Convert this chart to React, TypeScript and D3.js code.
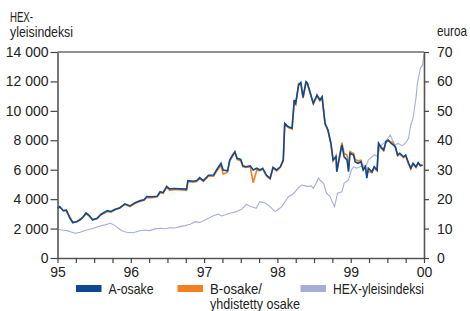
import React, { useEffect, useRef } from "react";
import * as d3 from "d3";

// HEX general index (left axis), decimal years
const hexDates = [
  1995.0, 1995.06, 1995.13, 1995.24, 1995.31, 1995.4, 1995.48, 1995.58, 1995.65, 1995.72,
  1995.77, 1995.83, 1995.88, 1995.94, 1996.03, 1996.13, 1996.19, 1996.26, 1996.33, 1996.4,
  1996.47, 1996.53, 1996.6, 1996.67, 1996.74, 1996.81, 1996.88, 1996.94, 1997.0, 1997.06,
  1997.12, 1997.19, 1997.24, 1997.3, 1997.35, 1997.44, 1997.51, 1997.58, 1997.63, 1997.67,
  1997.71, 1997.76, 1997.83, 1997.9, 1997.97, 1998.01, 1998.06, 1998.1, 1998.15, 1998.2,
  1998.24, 1998.28, 1998.33, 1998.38, 1998.42, 1998.46, 1998.49, 1998.53, 1998.56, 1998.58,
  1998.63, 1998.67, 1998.72, 1998.74, 1998.78, 1998.82, 1998.88, 1998.91, 1998.97, 1999.01,
  1999.04, 1999.08, 1999.13, 1999.17, 1999.21, 1999.24, 1999.29, 1999.33, 1999.37, 1999.4,
  1999.47, 1999.54, 1999.57, 1999.6, 1999.65, 1999.69, 1999.72, 1999.76, 1999.79, 1999.82,
  1999.85, 1999.89, 1999.91, 1999.95, 1999.98, 2000.0,
];
const hexValues = [
  1950, 1900, 1860, 1680, 1750, 1900, 2000, 2170, 2250, 2360,
  2250, 2020, 1850, 1750, 1720, 1850, 1900, 1860, 1980, 2020,
  1990, 2060, 2040, 2130, 2200, 2290, 2470, 2420, 2550, 2700,
  2850, 2990, 2860, 2950, 3040, 3150, 3310, 3650, 3500, 3450,
  3380, 3830, 3750, 3490, 3150, 3300, 3490, 3800, 4170, 4300,
  4500, 4750, 4960, 4900, 4850, 4900, 4740, 5100, 5450, 5300,
  5080, 4400, 4170, 3900, 3490, 4400, 4500, 5080, 5300, 5980,
  6200, 6100, 6200, 6320, 6250, 6660, 6880, 7000, 6880, 7560,
  7900, 8360, 8020, 7680, 7790, 7650, 7680, 7900, 8130, 9040,
  9490, 10850, 11870, 12890, 13120, 13900,
];

// A and B shares (right axis, euros)
const shareDates = [
  1995.0, 1995.03, 1995.08, 1995.12, 1995.17, 1995.21, 1995.27, 1995.31, 1995.35, 1995.39,
  1995.43, 1995.48, 1995.54, 1995.59, 1995.68, 1995.73, 1995.78, 1995.85, 1995.92, 1995.99,
  1996.06, 1996.13, 1996.18, 1996.22, 1996.29, 1996.36, 1996.4, 1996.44, 1996.49, 1996.53,
  1996.6, 1996.67, 1996.76, 1996.78, 1996.85, 1996.9, 1996.94, 1996.99, 1997.06, 1997.13,
  1997.17, 1997.23, 1997.26, 1997.32, 1997.35, 1997.39, 1997.42, 1997.45, 1997.5, 1997.53,
  1997.57, 1997.63, 1997.67, 1997.72, 1997.76, 1997.8, 1997.85, 1997.9, 1997.94, 1997.99,
  1998.04, 1998.08, 1998.1, 1998.15, 1998.2, 1998.23, 1998.25, 1998.29, 1998.32, 1998.35,
  1998.39, 1998.41, 1998.45, 1998.49, 1998.54, 1998.58, 1998.61, 1998.65, 1998.69, 1998.73,
  1998.76, 1998.8, 1998.81, 1998.84, 1998.88, 1998.91, 1998.95, 1998.97, 1998.99, 1999.04,
  1999.06, 1999.1, 1999.14, 1999.17, 1999.2, 1999.22, 1999.24, 1999.29, 1999.32, 1999.36,
  1999.38, 1999.41, 1999.45, 1999.48, 1999.51, 1999.55, 1999.58, 1999.61, 1999.64, 1999.67,
  1999.72, 1999.75, 1999.79, 1999.82, 1999.85, 1999.89, 1999.92, 1999.95, 1999.98,
];
const aValues = [
  17.0, 17.5, 16.0, 16.3, 13.5, 12.0, 12.5, 13.0, 14.0, 15.3,
  14.5, 12.9, 13.5, 14.8, 16.1, 15.8, 16.5, 17.0, 18.4, 17.7,
  18.8, 19.5, 19.8, 20.9, 20.8, 21.0, 22.5, 22.2, 24.3, 23.5,
  23.6, 23.5, 23.4, 26.3, 26.1, 26.3, 27.3, 26.3, 28.1, 28.2,
  29.9, 32.2, 29.9, 29.6, 33.3, 35.0, 36.1, 33.9, 33.5, 31.3,
  31.0, 31.3, 29.9, 30.5, 29.9, 30.5, 28.2, 27.1, 30.8, 29.9,
  31.0, 33.3, 45.8, 44.6, 44.1, 53.7, 52.6, 58.8, 59.6, 54.6,
  59.9, 59.4, 56.0, 52.6, 55.4, 53.7, 54.8, 45.8, 43.5, 39.0,
  33.3, 34.4, 29.3, 33.3, 38.4, 34.4, 33.3, 29.3, 35.6, 35.0,
  32.7, 32.2, 32.7, 29.9, 31.0, 27.1, 30.5, 29.3, 31.0, 29.9,
  39.0, 37.8, 36.7, 39.5, 40.1, 39.0, 38.4, 37.8, 35.0, 35.6,
  34.4, 35.0, 32.2, 30.5, 32.2, 31.0, 32.4, 31.3, 31.6,
];
const bValues = [
  17.0, 17.2, 16.2, 16.0, 13.8, 12.2, 12.3, 13.2, 13.8, 15.0,
  14.3, 13.1, 13.3, 14.6, 15.8, 15.6, 16.3, 17.2, 18.2, 17.5,
  18.6, 19.3, 19.6, 20.6, 20.5, 20.8, 22.2, 22.0, 24.0, 23.0,
  23.3, 23.2, 23.0, 26.0, 25.8, 26.0, 27.0, 26.0, 27.8, 27.8,
  29.5, 31.5, 28.5, 29.2, 33.0, 34.6, 36.0, 33.5, 33.0, 31.0,
  30.8, 31.0, 25.6, 30.0, 29.6, 30.2, 27.9, 26.8, 30.5, 29.6,
  30.8, 33.0, 45.3, 44.3, 43.8, 53.2, 52.3, 59.3, 59.2, 54.3,
  59.5, 59.0, 55.6, 52.3, 55.0, 53.4, 54.5, 45.5, 43.2, 38.7,
  33.0, 34.8, 29.6, 33.6, 39.2, 35.5, 35.0, 30.0, 36.2, 35.5,
  33.6, 33.0, 33.2, 30.4, 31.2, 28.5, 29.5, 29.0, 30.6, 29.6,
  38.6, 37.5, 36.4, 39.2, 39.8, 39.5, 39.2, 37.5, 34.7, 35.3,
  34.1, 34.7, 31.9, 30.2, 31.9, 30.7, 32.1, 31.8, 31.3,
];

const leftTicks = [0, 2000, 4000, 6000, 8000, 10000, 12000, 14000];
const rightTicks = [0, 10, 20, 30, 40, 50, 60, 70];
const yearLabels = ["95", "96", "97", "98", "99", "00"];

const legendItems = [
  { label: ["A-osake"], widths: [45], color: "#0b4a90" },
  { label: ["B-osake/", "yhdistetty osake"], widths: [52, 90], color: "#f47f20" },
  { label: ["HEX-yleisindeksi"], widths: [91], color: "#a6aed8" },
];

const numFont = "'Liberation Sans', Arial, sans-serif";
const textFont = "'Liberation Sans', Arial, sans-serif";
const ink = "#222";

export default function App() {
  const ref = useRef<SVGSVGElement>(null);

  useEffect(() => {
    const W = 470, H = 311;
    const margin = { top: 52, right: 46, bottom: 53, left: 57.5 };
    const svg = d3.select(ref.current);
    svg.selectAll("*").remove();

    const x = d3.scaleLinear().domain([1995, 2000]).range([margin.left, W - margin.right]);
    const yL = d3.scaleLinear().domain([0, 14000]).range([H - margin.bottom, margin.top]);
    const yR = d3.scaleLinear().domain([0, 70]).range([H - margin.bottom, margin.top]);

    const fmt = d3.formatLocale({ decimal: ",", thousands: "\u00a0", grouping: [3], currency: ["", "€"] }).format(",");

    // narrow text: squeeze to the measured width
    const word = (g: any, s: string, tx: number, ty: number, w: number) =>
      g.append("text").attr("x", tx).attr("y", ty)
        .attr("font-family", textFont).attr("font-size", 14.5).attr("fill", ink)
        .attr("textLength", w).attr("lengthAdjust", "spacingAndGlyphs").text(s);

    // top border
    svg.append("line")
      .attr("x1", x(1995)).attr("x2", x(2000))
      .attr("y1", yL(14000)).attr("y2", yL(14000))
      .attr("stroke", ink).attr("stroke-width", 1.2);

    // lines
    const hexLine = d3.line<number>().x((d, i) => x(hexDates[i])).y(d => yL(d));
    const shareLine = d3.line<number>().x((d, i) => x(shareDates[i])).y(d => yR(d));

    svg.append("path").datum(hexValues).attr("d", hexLine)
      .attr("fill", "none").attr("stroke", "#a6aed8").attr("stroke-width", 1.1);
    svg.append("path").datum(bValues).attr("d", shareLine)
      .attr("fill", "none").attr("stroke", "#f47f20").attr("stroke-width", 1.6);
    svg.append("path").datum(aValues).attr("d", shareLine)
      .attr("fill", "none").attr("stroke", "#0b4a90").attr("stroke-width", 1.6);

    // axes
    const styleAxis = (g: any) => {
      g.select(".domain").attr("stroke", "#555").attr("stroke-width", 1.6);
      g.selectAll(".tick line").attr("stroke", "#444").attr("stroke-width", 1.2);
      g.selectAll("text").attr("font-family", numFont).attr("font-size", 14).attr("fill", ink);
    };

    svg.append("g")
      .attr("transform", `translate(${x(1995)},0)`)
      .call(d3.axisLeft(yL).tickValues(leftTicks).tickSize(7).tickSizeOuter(0).tickPadding(2).tickFormat(d => fmt(d as number)))
      .call(styleAxis);

    svg.append("g")
      .attr("transform", `translate(${x(2000)},0)`)
      .call(d3.axisRight(yR).tickValues(rightTicks).tickSize(5).tickSizeOuter(0).tickPadding(8).tickFormat(d3.format("d")))
      .call(styleAxis);

    const quarters = d3.range(0, 21).map(i => 1995 + i / 4);
    svg.append("g")
      .attr("transform", `translate(0,${yL(0)})`)
      .call(d3.axisBottom(x).tickValues(quarters).tickSize(5).tickSizeOuter(0).tickPadding(4)
        .tickFormat(d => {
          const v = d as number;
          return Number.isInteger(v) ? yearLabels[v - 1995] : "";
        }))
      .call(styleAxis);

    // axis titles
    word(svg, "HEX-", 10, 21.5, 23);
    word(svg, "yleisindeksi", 10, 36.5, 63);
    word(svg, "euroa", 437, 36, 30);

    // legend
    const legendX = [76, 177.5, 300.5];
    const lg = svg.append("g");
    legendItems.forEach((item, i) => {
      lg.append("rect").attr("x", legendX[i]).attr("y", 285).attr("width", 25.5).attr("height", 7)
        .attr("fill", item.color);
      item.label.forEach((s, j) => {
        word(lg, s, legendX[i] + 32.5, 293.5 + j * 15.5, item.widths[j]);
      });
    });
  }, []);

  return (
    <svg ref={ref} width={470} height={311}
      style={{ position: "absolute", left: 0, top: 0, background: "#fff" }} />
  );
}
